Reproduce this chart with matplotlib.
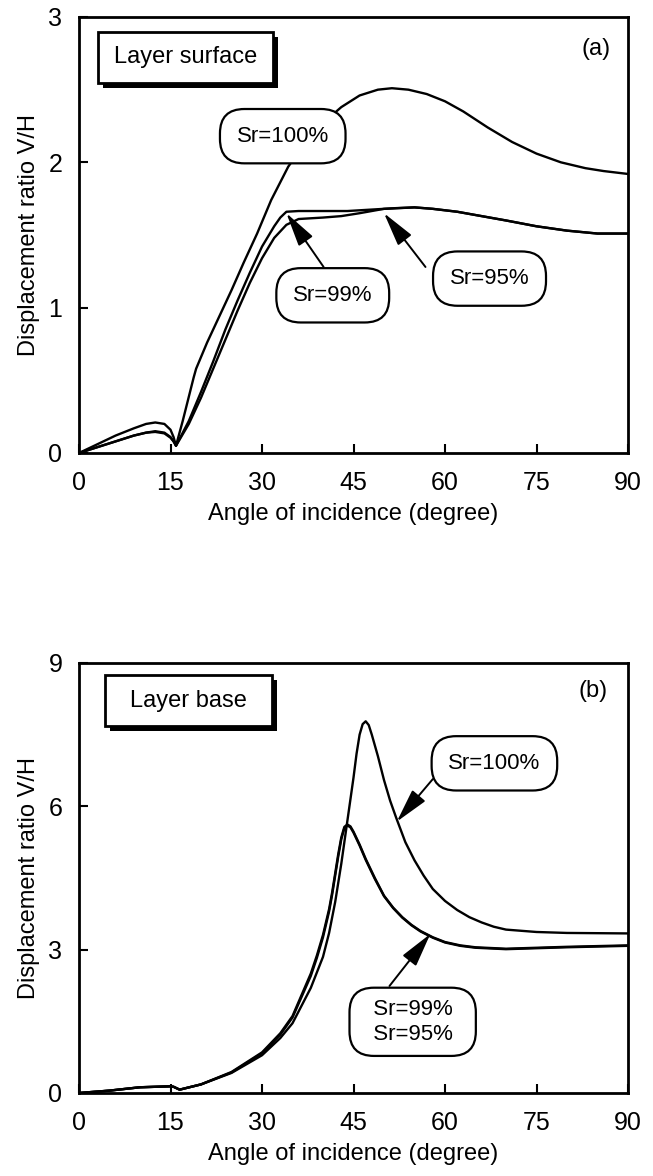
import matplotlib
matplotlib.use("Agg")
import matplotlib.pyplot as plt
import matplotlib.patheffects as pe
from matplotlib.patches import Rectangle

plt.rcParams['font.family'] = ['Liberation Sans', 'DejaVu Sans']

# ---- data ----
# (a) layer surface
surf_x100 = [0, 3, 6, 9, 11, 12.5, 14, 15, 15.5, 15.9, 17, 18.8, 19.2, 21, 23, 25, 27, 29.2, 31.5,
             34.3, 37, 40, 43, 46, 49, 51.3, 54, 57, 60, 63, 67, 71, 75, 79, 83, 86, 90]
surf_y100 = [0, 0.06, 0.12, 0.17, 0.20, 0.21, 0.20, 0.16, 0.11, 0.05, 0.22, 0.52, 0.58, 0.76, 0.94,
             1.12, 1.31, 1.51, 1.74, 1.97, 2.13, 2.27, 2.38, 2.46, 2.50, 2.51, 2.50, 2.47, 2.42,
             2.35, 2.24, 2.14, 2.06, 2.00, 1.96, 1.94, 1.92]

surf_x99 = [0, 3, 6, 9, 11, 12.5, 14, 15, 15.5, 15.9, 18, 20, 22, 24, 26, 28, 30, 32, 33, 34, 36,
            40, 44, 48, 52, 55, 58, 62, 66, 70, 75, 80, 85, 90]
surf_y99 = [0, 0.04, 0.08, 0.12, 0.14, 0.15, 0.14, 0.11, 0.08, 0.05, 0.22, 0.42, 0.63, 0.85, 1.05,
            1.24, 1.42, 1.56, 1.62, 1.66, 1.665, 1.665, 1.665, 1.675, 1.685, 1.69, 1.68, 1.66,
            1.63, 1.60, 1.56, 1.53, 1.51, 1.51]

surf_x95 = [0, 3, 6, 9, 11, 12.5, 14, 15, 15.5, 15.9, 18, 20, 22, 24, 26, 28, 30, 32, 34, 36, 40,
            43, 46, 50, 55, 58, 62, 66, 70, 75, 80, 85, 90]
surf_y95 = [0, 0.04, 0.08, 0.12, 0.14, 0.145, 0.135, 0.105, 0.08, 0.05, 0.20, 0.38, 0.58, 0.78,
            0.98, 1.17, 1.34, 1.48, 1.57, 1.61, 1.62, 1.63, 1.65, 1.68, 1.69, 1.68, 1.66, 1.63,
            1.60, 1.56, 1.53, 1.51, 1.51]

# (b) layer base
base_x100 = [0, 5, 10, 15, 15.5, 16.5, 20, 25, 30, 33, 35, 38, 40, 41, 42, 43, 44, 45, 45.5, 46,
             46.5, 47, 47.5, 48, 49, 50, 51, 52, 53.5, 55, 56.5, 58, 60, 62, 64, 66, 68, 70, 75,
             80, 90]
base_y100 = [0, 0.05, 0.12, 0.14, 0.13, 0.07, 0.18, 0.42, 0.79, 1.15, 1.46, 2.2, 2.85, 3.35, 4.0,
             4.8, 5.7, 6.6, 7.1, 7.5, 7.72, 7.78, 7.7, 7.5, 7.05, 6.55, 6.12, 5.76, 5.25, 4.87,
             4.55, 4.27, 4.02, 3.83, 3.68, 3.57, 3.48, 3.42, 3.37, 3.35, 3.34]

base_x99 = [0, 5, 10, 15, 15.5, 16.5, 20, 25, 30, 33, 35, 38, 39, 40, 41, 41.5, 42, 42.5, 43, 43.5,
            44, 44.5, 45, 46, 47, 48.5, 50, 51.5, 53, 54.5, 56, 58, 60, 62.5, 65, 70, 80, 90]
base_y99 = [0, 0.05, 0.12, 0.14, 0.13, 0.07, 0.18, 0.44, 0.85, 1.25, 1.61, 2.5, 2.88, 3.31, 3.85,
            4.2, 4.6, 5.0, 5.35, 5.57, 5.62, 5.58, 5.47, 5.2, 4.9, 4.5, 4.13, 3.88, 3.68, 3.52,
            3.39, 3.26, 3.16, 3.09, 3.05, 3.02, 3.06, 3.09]

base_x95 = [0, 5, 10, 15, 15.5, 16.5, 20, 25, 30, 33, 35, 38, 39, 40, 41, 41.5, 42, 42.5, 43, 43.5,
            44, 44.5, 45, 46, 47, 48.5, 50, 51.5, 53, 54.5, 56, 58, 60, 62.5, 65, 70, 80, 90]
base_y95 = [0, 0.05, 0.12, 0.14, 0.13, 0.07, 0.18, 0.43, 0.83, 1.22, 1.58, 2.45, 2.83, 3.26, 3.8,
            4.15, 4.55, 4.95, 5.31, 5.54, 5.6, 5.56, 5.45, 5.18, 4.88, 4.48, 4.12, 3.87, 3.67,
            3.51, 3.38, 3.25, 3.15, 3.08, 3.04, 3.01, 3.05, 3.08]

xticks = [0, 15, 30, 45, 60, 75, 90]

fig = plt.figure(figsize=(6.53, 11.76), dpi=100)
ax1 = fig.add_axes([79 / 653, 1 - 453 / 1176, 549 / 653, 436 / 1176])
ax2 = fig.add_axes([79 / 653, 1 - 1093 / 1176, 549 / 653, 430 / 1176])


def style_axis(ax, ymax):
    ax.set_xlim(0, 90)
    ax.set_ylim(0, ymax)
    ax.set_xticks(xticks)
    ax.set_yticks([0, ymax / 3, 2 * ymax / 3, ymax])
    ax.set_yticklabels(['%d' % v for v in [0, ymax / 3, 2 * ymax / 3, ymax]])
    for s in ax.spines.values():
        s.set_linewidth(2.0)
    ax.tick_params(direction='in', length=6.5, width=1.5, labelsize=18)
    ax.tick_params(axis='x', pad=13)
    ax.tick_params(axis='y', pad=12)
    ax.set_xlabel('Angle of incidence (degree)', fontsize=17, labelpad=6)
    ax.set_ylabel('Displacement ratio V/H', fontsize=17, labelpad=6)


def title_box(ax, x0, y0, x1, y1, label):
    r = Rectangle((x0, y0), x1 - x0, y1 - y0, transform=ax.transAxes, fc='white',
                  ec='black', lw=2.0, zorder=6)
    r.set_path_effects([pe.SimplePatchShadow(offset=(3.5, -3.5), shadow_rgbFace='black',
                                             alpha=1.0),
                        pe.Normal()])
    ax.add_patch(r)
    ax.text((x0 + x1) / 2, (y0 + y1) / 2, label, transform=ax.transAxes, ha='center',
            va='center', fontsize=17, zorder=7)


def tag(ax, x, y, label, pad=0.75):
    ax.text(x, y, label, ha='center', va='center', fontsize=16, zorder=6, linespacing=1.25,
            bbox=dict(boxstyle='round,pad=%s,rounding_size=1.1' % pad, fc='white',
                      ec='black', lw=1.6))


def arrow(ax, start, tip):
    ax.annotate('', xy=tip, xytext=start, zorder=5,
                arrowprops=dict(arrowstyle='-|>,head_length=1.4,head_width=0.35',
                                mutation_scale=15, fc='black', ec='black', lw=1.4,
                                shrinkA=0, shrinkB=0))


lw = 1.7
ax1.plot(surf_x100, surf_y100, color='black', lw=lw, zorder=3)
ax1.plot(surf_x99, surf_y99, color='black', lw=lw, zorder=3)
ax1.plot(surf_x95, surf_y95, color='black', lw=lw, zorder=3)
style_axis(ax1, 3)
title_box(ax1, 0.035, 0.849, 0.353, 0.966, 'Layer surface')
ax1.text(84.7, 2.78, '(a)', ha='center', va='center', fontsize=17)
tag(ax1, 33.4, 2.18, 'Sr=100%')
tag(ax1, 41.6, 1.085, 'Sr=99%')
tag(ax1, 67.3, 1.20, 'Sr=95%')
arrow(ax1, (40.1, 1.28), (34.0, 1.65))
arrow(ax1, (56.8, 1.28), (50.0, 1.65))

ax2.plot(base_x100, base_y100, color='black', lw=lw, zorder=3)
ax2.plot(base_x99, base_y99, color='black', lw=lw, zorder=3)
ax2.plot(base_x95, base_y95, color='black', lw=lw, zorder=3)
style_axis(ax2, 9)
title_box(ax2, 0.048, 0.853, 0.352, 0.972, 'Layer base')
ax2.text(84.3, 8.42, '(b)', ha='center', va='center', fontsize=17)
tag(ax2, 68.1, 6.90, 'Sr=100%')
tag(ax2, 54.7, 1.49, '  Sr=99%  \n  Sr=95%  ', pad=0.5)
arrow(ax2, (58.0, 6.57), (52.1, 5.68))
arrow(ax2, (50.9, 2.24), (57.6, 3.33))

fig.savefig('out.png', dpi=100)
